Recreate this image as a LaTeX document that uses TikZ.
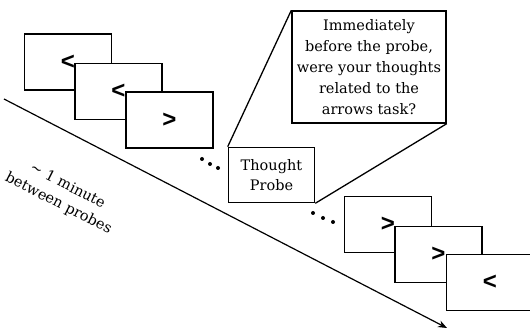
\documentclass[tikz,border=0pt]{standalone}
\usepackage{fontspec}
\setmainfont{DejaVu Serif}
\newfontfamily\arrowfont{Liberation Sans}
\usetikzlibrary{arrows.meta}
\begin{document}
\begin{tikzpicture}[x=1pt,y=-1pt,
  screen/.style={draw, line width=1.8pt, fill=white, minimum width=87pt, minimum height=56pt, inner sep=0pt, font=\arrowfont\bfseries\fontsize{24}{24}\selectfont},
  probe/.style={draw, line width=1.6pt, fill=white, minimum width=86pt, minimum height=55pt, inner sep=0pt, align=center, font=\fontsize{14.5}{20}\selectfont},
  callout/.style={draw, line width=1.4pt, fill=white, minimum width=154pt, minimum height=112pt, inner sep=0pt, align=center, font=\fontsize{14.5}{21}\selectfont},
  dot/.style={fill=black, circle, inner sep=0pt, minimum size=4pt},
  timeline/.style={line width=1.2pt, -{Stealth[length=9pt,width=7pt]}},
  lab/.style={align=center, font=\fontsize{14.5}{20}\selectfont, rotate=-27}
]
\useasboundingbox (0,0) rectangle (530,328);
\clip (0,0) rectangle (530,328);
\coordinate (ts) at (4,99);
\coordinate (te) at (447,328);
\draw[timeline] (ts) -- (te);
\node[lab] (lbl) at (63,195) {\textasciitilde{} 1 minute\\between probes};

\node[screen] (s1) at (68,62) {<};
\node[screen] (s2) at (118.5,91.5) {<};
\node[screen] (s3) at (169.5,120) {>};

\node[dot] (d1) at (202,159) {};
\node[dot] (d2) at (210,164) {};
\node[dot] (d3) at (218,168) {};

\node[probe] (tp) at (271.5,175) {Thought\\Probe};
\node[callout] (cq) at (369,67) {Immediately\\before the probe,\\were your thoughts\\related to the\\arrows task?};
\draw[line width=1.3pt] (tp.north west) -- (cq.north west);
\draw[line width=1.3pt] (tp.south east) -- (cq.south east);

\node[dot] (d4) at (313,213) {};
\node[dot] (d5) at (323,218) {};
\node[dot] (d6) at (333,222) {};

\node[screen] (s4) at (388,224.5) {>};
\node[screen] (s5) at (438.5,254.5) {>};
\node[screen] (s6) at (490,282.5) {<};
\end{tikzpicture}
\end{document}
